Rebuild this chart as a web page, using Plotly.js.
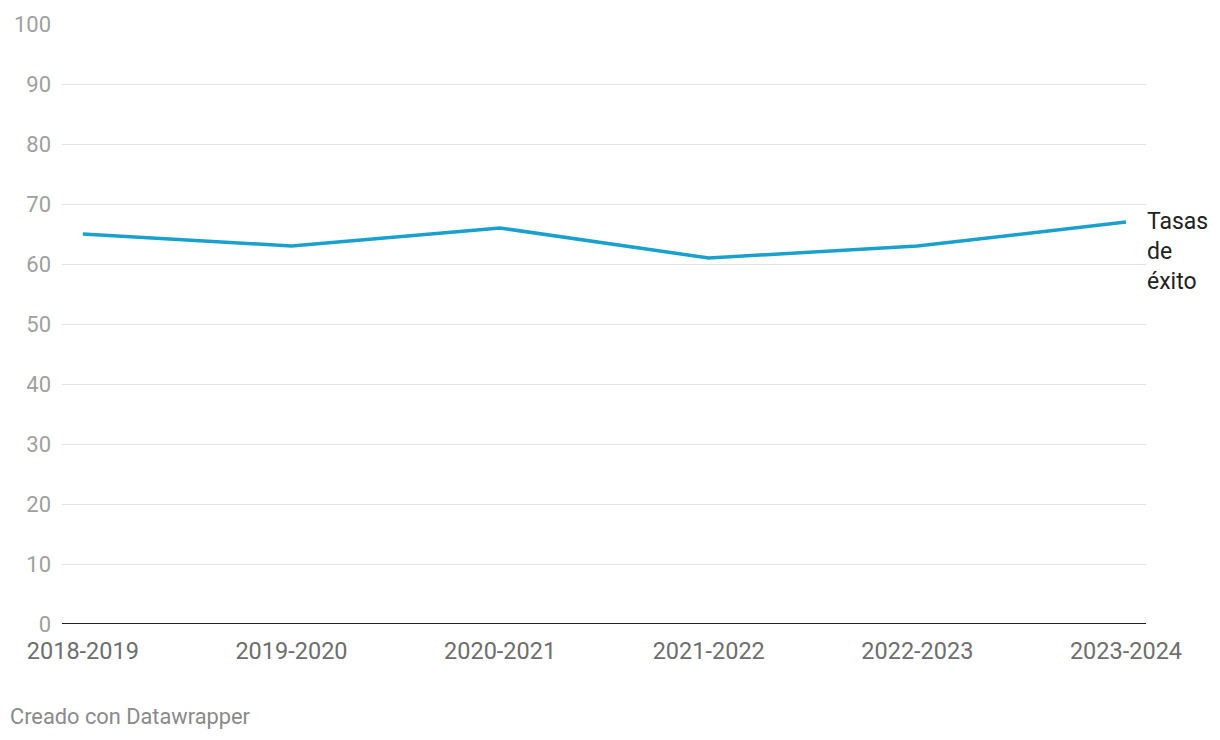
<!DOCTYPE html>
<html>
<head>
<meta charset="utf-8">
<script src="https://cdn.plot.ly/plotly-3.0.1.min.js"></script>
<style>
html,body{margin:0;padding:0;background:#fff;}
#chart{width:1220px;height:740px;}
</style>
</head>
<body>
<div id="chart"></div>
<script>
const categories = ["2018-2019","2019-2020","2020-2021","2021-2022","2022-2023","2023-2024"];
const tasasExito = [65, 63, 66, 61, 63, 67];
const yTicks = [0,10,20,30,40,50,60,70,80,90,100];
const seriesName = "Tasas<br>de<br>éxito";

const xIdx = categories.map((c,i)=>i);

const trace = {
  x: xIdx,
  y: tasasExito,
  type: "scatter",
  mode: "lines",
  line: {color: "#18a1cd", width: 3.5},
  hoverinfo: "skip",
  showlegend: false
};

const layout = {
  width: 1220, height: 740,
  paper_bgcolor: "#fff", plot_bgcolor: "#fff",
  margin: {l: 62, r: 74, t: 24, b: 116},
  font: {family: "Roboto, sans-serif"},
  xaxis: {
    range: [-0.1, 5.096],
    tickvals: xIdx,
    ticktext: categories,
    showgrid: false,
    zeroline: false,
    showline: false,
    ticks: "",
    tickfont: {size: 23.5, color: "#6e6e6e"},
    ticklabelstandoff: 10,
    fixedrange: true
  },
  yaxis: {
    range: [0, 100],
    tickvals: yTicks,
    showgrid: true,
    gridcolor: "#e2e2e2",
    gridwidth: 1,
    zeroline: false,
    showline: false,
    ticks: "",
    tickfont: {size: 22, color: "#a0a0a0"},
    ticklabelstandoff: 10,
    fixedrange: true
  },
  shapes: [{
    type: "line", xref: "paper", yref: "y",
    x0: 0, x1: 1, y0: 0, y1: 0,
    line: {color: "#222", width: 2}
  }],
  annotations: [
    {
      x: xIdx[xIdx.length-1], y: tasasExito[tasasExito.length-1],
      xref: "x", yref: "y",
      text: seriesName,
      showarrow: false,
      xanchor: "left", yanchor: "top",
      align: "left",
      xshift: 19, yshift: 16,
      font: {size: 23, color: "#222"}
    },
    {
      x: (8-62)/1084, y: (624-716)/600,
      xref: "paper", yref: "paper",
      xanchor: "left", yanchor: "middle",
      text: "Creado con Datawrapper",
      showarrow: false,
      font: {size: 21.8, color: "#8a8a8a"}
    }
  ]
};

Plotly.newPlot("chart", [trace], layout, {displayModeBar: false, staticPlot: true});
</script>
</body>
</html>
